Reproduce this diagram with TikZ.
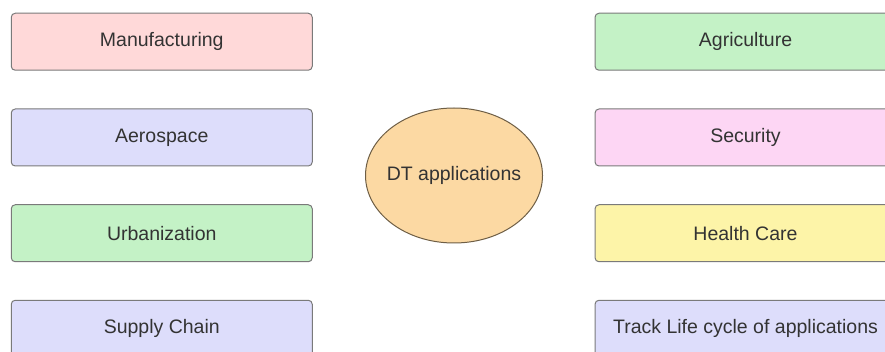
\documentclass[tikz,border=0pt]{standalone}
\usepackage{fontspec}
\setmainfont{Liberation Sans}
\usetikzlibrary{shapes.geometric}
\definecolor{txt}{HTML}{333333}
\definecolor{bord}{HTML}{7A7A7A}
\definecolor{cpink}{HTML}{FFD9D9}
\definecolor{cblue}{HTML}{DDDDFB}
\definecolor{cgreen}{HTML}{C4F2C6}
\definecolor{cmag}{HTML}{FDD6F4}
\definecolor{cyel}{HTML}{FDF4A8}
\definecolor{corange}{HTML}{FCD9A3}
\definecolor{cobord}{HTML}{6E5E45}
\begin{document}
\begin{tikzpicture}[x=1pt,y=-1pt,
  appbox/.style={draw=bord, line width=1pt, rounded corners=4pt, minimum width=301pt, minimum height=57pt, text=txt, font=\fontsize{19.5}{22}\selectfont, inner sep=0pt},
  hub/.style={ellipse, draw=cobord, line width=1pt, fill=corange, minimum width=177pt, minimum height=135pt, text=txt, font=\fontsize{19.5}{22}\selectfont, inner xsep=-30pt, inner ysep=0pt}]
\useasboundingbox (0,0) rectangle (885,352);
\clip (0,0) rectangle (885,352);
\fill[white] (0,0) rectangle (885,352);
\node[appbox, fill=cpink] (manu) at (161.75,41.75) {Manufacturing};
\node[appbox, fill=cblue] (aero) at (161.75,137.5) {Aerospace};
\node[appbox, fill=cgreen] (urban) at (161.75,233.25) {Urbanization};
\node[appbox, fill=cblue] (supply) at (161.75,328.75) {Supply Chain};
\node[appbox, fill=cgreen] (agri) at (745.5,41.75) {Agriculture};
\node[appbox, fill=cmag] (sec) at (745.5,137.5) {Security};
\node[appbox, fill=cyel] (health) at (745.5,233.25) {Health Care};
\node[appbox, fill=cblue] (track) at (745.5,328.75) {Track Life cycle of applications};
\node[hub] (dt) at (454,175.5) {DT applications};
\end{tikzpicture}
\end{document}
